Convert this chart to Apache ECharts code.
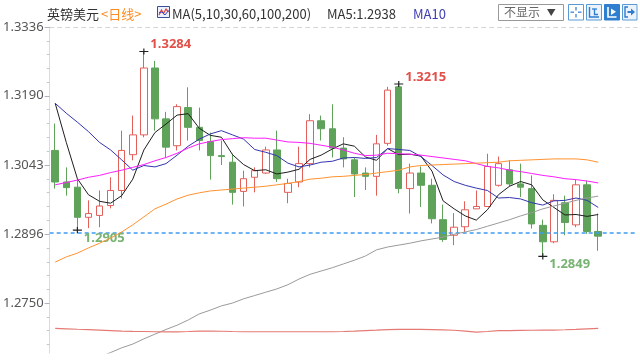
<!DOCTYPE html>
<html><head><meta charset="utf-8">
<script src="https://cdn.jsdelivr.net/npm/echarts@6/dist/echarts.min.js"></script>
<style>html,body{margin:0;padding:0;background:#fff}#c{width:640px;height:360px}</style>
</head><body><div id="c"></div>
<script>
// ---- data ----
const opens = [1.3074,1.3007,1.2996,1.2932,1.2936,1.2957,1.2989,1.3065,1.3107,1.3249,
1.3141,1.3084,1.3165,1.3123,1.3093,1.3063,1.3049,1.2987,1.3017,1.3026,
1.3075,1.2985,1.3007,1.3046,1.3137,1.3120,1.3079,1.3054,1.3026,1.3019,
1.3089,1.3209,1.2993,1.3026,1.3000,1.2927,1.2894,1.2912,1.2950,1.2955,
1.3000,1.3033,1.3003,1.2993,1.2915,1.2880,1.2963,1.2916,1.3001,1.2902];
const closes = [1.3007,1.2995,1.2932,1.2940,1.2956,1.2989,1.3074,1.3107,1.3249,1.3141,
1.3081,1.3167,1.3123,1.3095,1.3063,1.3061,1.2985,1.3014,1.3031,1.3075,
1.3014,1.3004,1.3046,1.3137,1.3120,1.3079,1.3056,1.3024,1.3019,1.3088,
1.3202,1.2993,1.3026,1.3000,1.2929,1.2885,1.2911,1.2948,1.2955,1.3040,
1.3046,1.3003,1.2996,1.2918,1.2880,1.2968,1.2921,1.3001,1.2902,1.2892];
const lows = [1.2993,1.2978,1.2905,1.2909,1.2911,1.2951,1.2972,1.3053,1.3102,1.3116,
1.3059,1.3074,1.3095,1.3074,1.3012,1.3043,1.2959,1.2955,1.2985,1.3024,
1.3007,1.2962,1.2996,1.3038,1.3095,1.3059,1.3038,1.2975,1.2990,1.2978,
1.3084,1.2983,1.2940,1.2954,1.2919,1.2880,1.2873,1.2901,1.2950,1.2955,
1.2997,1.2997,1.2975,1.2908,1.2849,1.2877,1.2894,1.2911,1.2897,1.2861];
const highs = [1.3131,1.3038,1.3014,1.2968,1.2989,1.3017,1.3116,1.3148,1.3284,1.3264,
1.3156,1.3172,1.3208,1.3165,1.3112,1.3095,1.3067,1.3031,1.3038,1.3082,
1.3116,1.3014,1.3082,1.3151,1.3148,1.3172,1.3102,1.3059,1.3038,1.3107,
1.3209,1.3215,1.3046,1.3040,1.3014,1.2959,1.2941,1.2966,1.2989,1.3067,
1.3061,1.3053,1.3046,1.3021,1.2927,1.2981,1.2978,1.3012,1.3010,1.2940];

const ma5 = [1.3174,1.3091,1.3014,1.2980,1.2966,1.2962,1.2978,1.3013,1.3075,1.3112,
1.3130,1.3149,1.3152,1.3121,1.3106,1.3102,1.3065,1.3044,1.3031,1.3033,
1.3024,1.3028,1.3034,1.3055,1.3064,1.3077,1.3088,1.3083,1.3060,1.3053,
1.3078,1.3065,1.3066,1.3062,1.3030,1.2967,1.2950,1.2935,1.2926,1.2948,
1.2980,1.2998,1.3008,1.3001,1.2969,1.2953,1.2937,1.2938,1.2934,1.2938];
const ma10 = [1.3174,1.3153,1.3134,1.3114,1.3091,1.3075,1.3054,1.3032,1.3042,1.3039,
1.3046,1.3064,1.3083,1.3098,1.3109,1.3116,1.3107,1.3098,1.3076,1.3070,
1.3063,1.3047,1.3039,1.3043,1.3049,1.3051,1.3058,1.3059,1.3057,1.3059,
1.3078,1.3076,1.3074,1.3061,1.3042,1.3022,1.3008,1.3000,1.2994,1.2989,
1.2973,1.2974,1.2971,1.2963,1.2958,1.2967,1.2968,1.2973,1.2968,1.2953];
const ma30 = [1.3001,1.3006,1.3011,1.3017,1.3021,1.3027,1.3032,1.3038,1.3044,1.3052,
1.3059,1.3068,1.3079,1.3088,1.3093,1.3097,1.3099,1.3101,1.3100,1.3100,
1.3096,1.3092,1.3091,1.3089,1.3085,1.3081,1.3075,1.3068,1.3063,1.3064,
1.3068,1.3067,1.3066,1.3064,1.3061,1.3058,1.3055,1.3052,1.3046,1.3040,
1.3037,1.3032,1.3029,1.3025,1.3021,1.3018,1.3014,1.3012,1.3009,1.3005];
const ma60 = [1.2837,1.2848,1.2856,1.2867,1.2877,1.2888,1.2901,1.2916,1.2933,1.2950,
1.2960,1.2971,1.2979,1.2984,1.2988,1.2990,1.2992,1.2994,1.2996,1.2998,
1.3001,1.3004,1.3008,1.3013,1.3015,1.3018,1.3019,1.3021,1.3023,1.3026,
1.3029,1.3032,1.3039,1.3042,1.3043,1.3044,1.3045,1.3046,1.3047,1.3048,
1.3049,1.3052,1.3053,1.3054,1.3055,1.3056,1.3056,1.3056,1.3054,1.3049];
const ma100 = [1.2599,1.2608,1.2617,1.2627,1.2635,1.2645,1.2655,1.2663,1.2674,1.2684,
1.2694,1.2703,1.2714,1.2727,1.2735,1.2744,1.2750,1.2759,1.2766,1.2773,
1.2780,1.2789,1.2801,1.2811,1.2818,1.2825,1.2833,1.2841,1.2850,1.2863,
1.2869,1.2873,1.2877,1.2882,1.2886,1.2890,1.2896,1.2901,1.2906,1.2913,
1.2920,1.2927,1.2935,1.2942,1.2950,1.2956,1.2962,1.2968,1.2973,1.2977];
const ma200 = [1.26963,1.26953,1.26944,1.26936,1.26927,1.26917,1.26906,1.26900,1.26896,1.26891,
1.26889,1.26889,1.26896,1.26906,1.26906,1.26902,1.26896,1.26891,1.26891,1.26891,
1.26891,1.26891,1.26891,1.26891,1.26891,1.26891,1.26896,1.26906,1.26917,1.26927,
1.26938,1.26942,1.26942,1.26942,1.26938,1.26931,1.26923,1.26906,1.26885,1.26896,
1.26913,1.26917,1.26921,1.26923,1.26927,1.26927,1.26934,1.26942,1.26953,1.26963];

const yTickLabels = [1.2750, 1.2896, 1.3043, 1.3190, 1.3336];
const yMin = 1.2644, yMax = 1.3336;
const highMarks = [8, 31];   // candle indices with labelled highs
const lowMarks = [2, 44];    // candle indices with labelled lows
const emptySlots = 3;        // blank room right of the last candle

// ---- build ----
const nCandles = closes.length;
const categories = [];
for (let i = 0; i < nCandles + emptySlots; i++) categories.push('D' + (i + 1));
const ohlc = opens.map((o, i) => [o, closes[i], lows[i], highs[i]]);

const minorTicks = [];
const step = (yTickLabels[1] - yTickLabels[0]) / 5;
for (let k = 1; k < 5; k++) {
  for (let j = 0; j < yTickLabels.length - 1; j++) minorTicks.push(yTickLabels[j] + k * (yTickLabels[j+1] - yTickLabels[j]) / 5);
}
for (let k = 1; yTickLabels[0] - k * step > yMin; k++) minorTicks.push(yTickLabels[0] - k * step);

const crossSym = 'path://M0,2.5h9v1.2h-9z M3.9,0h1.2v6.2h-1.2z';
const markData = [];
highMarks.forEach(i => markData.push({
  coord: [categories[i], highs[i]], value: highs[i],
  label: {color: '#e2504a', offset: [0, -7]}
}));
lowMarks.forEach(i => markData.push({
  coord: [categories[i], lows[i]], value: lows[i],
  label: {color: '#79b373', offset: [0, 8]}
}));

function maLine(name, data, color, w) {
  return {name, type: 'line', data, showSymbol: false, symbol: 'none', z: 5,
    lineStyle: {color, width: w || 1}, itemStyle: {color}, silent: true, clip: true};
}

const chart = echarts.init(document.getElementById('c'), null, {renderer: 'canvas'});
const txtFont = '13px "Noto Sans CJK SC", "Noto Sans", sans-serif';
const blue = '#5b9bd5';
chart.setOption({
  animation: false,
  backgroundColor: '#ffffff',
  grid: {left: 46, right: 3, top: 27, bottom: 7},
  xAxis: {type: 'category', data: categories, position: 'top', boundaryGap: true,
    axisLine: {show: true, lineStyle: {color: '#d4d4d4', type: [4, 4], width: 1}},
    axisTick: {show: false}, axisLabel: {show: false}, splitLine: {show: false}},
  yAxis: [
    {type: 'value', min: yMin, max: yMax, position: 'left', scale: true,
     axisLine: {show: true, lineStyle: {color: '#d3dce8'}},
     axisTick: {show: true, length: 5, lineStyle: {color: '#aab6c6'}, customValues: yTickLabels},
     axisLabel: {show: true, customValues: yTickLabels, margin: 6, color: '#555',
       fontSize: 13, fontFamily: '"Noto Sans", sans-serif', formatter: v => v.toFixed(4)},
     splitLine: {show: false}},
    {type: 'value', min: yMin, max: yMax, position: 'left', scale: true,
     axisLine: {show: false},
     axisTick: {show: true, length: 3, lineStyle: {color: '#c0c9d6'}, customValues: minorTicks},
     axisLabel: {show: false}, splitLine: {show: false}}
  ],
  series: [
    {name: 'K', type: 'candlestick', data: ohlc, barWidth: 7, z: 3,
     itemStyle: {color: '#ffffff', color0: '#5fa35a', borderColor: '#e35f5a', borderColor0: '#5fa35a', borderWidth: 1},
     markLine: {silent: true, symbol: ['none', 'none'], label: {show: false},
       lineStyle: {color: '#3d9cf3', type: [4, 3], width: 1.5},
       data: [{yAxis: closes[nCandles - 1]}]},
     markPoint: {silent: true, symbol: crossSym, symbolSize: [9, 6.2],
       itemStyle: {color: '#222'},
       label: {show: true, position: 'right', distance: 2, fontSize: 13, fontWeight: 'bold',
         fontFamily: '"Noto Sans", sans-serif', formatter: p => Number(p.value).toFixed(4)},
       data: markData}},
    maLine('MA5', ma5, '#1e1e1e'),
    maLine('MA10', ma10, '#3434b0'),
    maLine('MA30', ma30, '#ff1dff'),
    maLine('MA60', ma60, '#ff9330'),
    maLine('MA100', ma100, '#9a9a9a'),
    maLine('MA200', ma200, '#e57a74', 1.2)
  ],
  graphic: [
    {type: 'text', x: 47, y: 14, style: {text: '英镑美元', font: txtFont, fill: '#333', verticalAlign: 'middle'}},
    {type: 'text', x: 101, y: 14, style: {text: '<日线>', font: txtFont, fill: '#ff8a1f', verticalAlign: 'middle'}},
    {type: 'rect', shape: {x: 157.5, y: 6.5, width: 12, height: 11}, style: {fill: '#eef1fb', stroke: '#3a4f9a', lineWidth: 1}},
    {type: 'polyline', shape: {points: [[159, 15], [161.5, 10], [163.5, 13.5], [166, 9], [168.5, 12]]}, style: {stroke: '#e0403a', lineWidth: 1.2, fill: null}},
    {type: 'polyline', shape: {points: [[159, 12.5], [162, 12], [165, 15], [168.5, 10.5]]}, style: {stroke: '#3048c8', lineWidth: 1, fill: null}},
    {type: 'text', x: 172, y: 14, style: {text: 'MA(5,10,30,60,100,200)', font: txtFont, fill: '#333', verticalAlign: 'middle'}},
    {type: 'text', x: 327, y: 14, style: {text: 'MA5:' + ma5[nCandles - 1].toFixed(4), font: txtFont, fill: '#333', verticalAlign: 'middle'}},
    {type: 'text', x: 413, y: 14, style: {text: 'MA10', font: txtFont, fill: '#3d3db2', verticalAlign: 'middle'}},
    // dropdown
    {type: 'rect', shape: {x: 498.5, y: 4.5, width: 65, height: 16}, style: {fill: '#fff', stroke: '#999', lineWidth: 1}},
    {type: 'text', x: 504, y: 12.8, style: {text: '不显示', font: '12px "Noto Sans CJK SC", sans-serif', fill: '#666', verticalAlign: 'middle'}},
    {type: 'polygon', shape: {points: [[547, 9], [555.5, 9], [551.2, 16]]}, style: {fill: '#444'}},
    // buttons
    {type: 'rect', shape: {x: 568.5, y: 4.5, width: 15, height: 15.5}, style: {fill: '#fff', stroke: blue, lineWidth: 1}},
    {type: 'polyline', shape: {points: [[576, 7], [576, 10.5]]}, style: {stroke: '#3b86d6', lineWidth: 1.3}},
    {type: 'polyline', shape: {points: [[576, 14], [576, 17.5]]}, style: {stroke: '#3b86d6', lineWidth: 1.3}},
    {type: 'polyline', shape: {points: [[570.5, 12.2], [574, 12.2]]}, style: {stroke: '#3b86d6', lineWidth: 1.3}},
    {type: 'polyline', shape: {points: [[578, 12.2], [581.5, 12.2]]}, style: {stroke: '#3b86d6', lineWidth: 1.3}},
    {type: 'rect', shape: {x: 586.5, y: 4.5, width: 15, height: 15.5}, style: {fill: '#eaf3fc', stroke: blue, lineWidth: 1}},
    {type: 'polyline', shape: {points: [[589.5, 7], [589.5, 17], [599, 17]]}, style: {stroke: '#2f7bcc', lineWidth: 1.4, fill: null}},
    {type: 'polyline', shape: {points: [[592, 9], [597, 9]]}, style: {stroke: '#2f7bcc', lineWidth: 1.3}},
    {type: 'polyline', shape: {points: [[594.5, 9], [594.5, 14.5], [598, 14.5]]}, style: {stroke: '#2f7bcc', lineWidth: 1.3, fill: null}},
    {type: 'rect', shape: {x: 604.5, y: 4.5, width: 15, height: 15.5}, style: {fill: '#2f7fd0', stroke: '#2f7fd0', lineWidth: 1}},
    {type: 'polyline', shape: {points: [[608, 7], [608, 17], [616.5, 17]]}, style: {stroke: '#fff', lineWidth: 1.6, fill: null}},
    {type: 'polygon', shape: {points: [[611, 8.5], [611, 15], [616, 11.8]]}, style: {fill: '#fff'}},
    {type: 'rect', shape: {x: 622.5, y: 4.5, width: 14.5, height: 15.5}, style: {fill: '#eaf3fc', stroke: blue, lineWidth: 1}},
    {type: 'polyline', shape: {points: [[628, 7], [625, 7], [625, 17], [628, 17]]}, style: {stroke: '#2f7bcc', lineWidth: 1.4, fill: null}},
    {type: 'polyline', shape: {points: [[627.5, 12], [632, 12]]}, style: {stroke: '#2f7bcc', lineWidth: 2}},
    {type: 'polygon', shape: {points: [[631, 8.5], [635, 12], [631, 15.5]]}, style: {fill: '#2f7bcc'}}
  ]
});
</script>
</body></html>
